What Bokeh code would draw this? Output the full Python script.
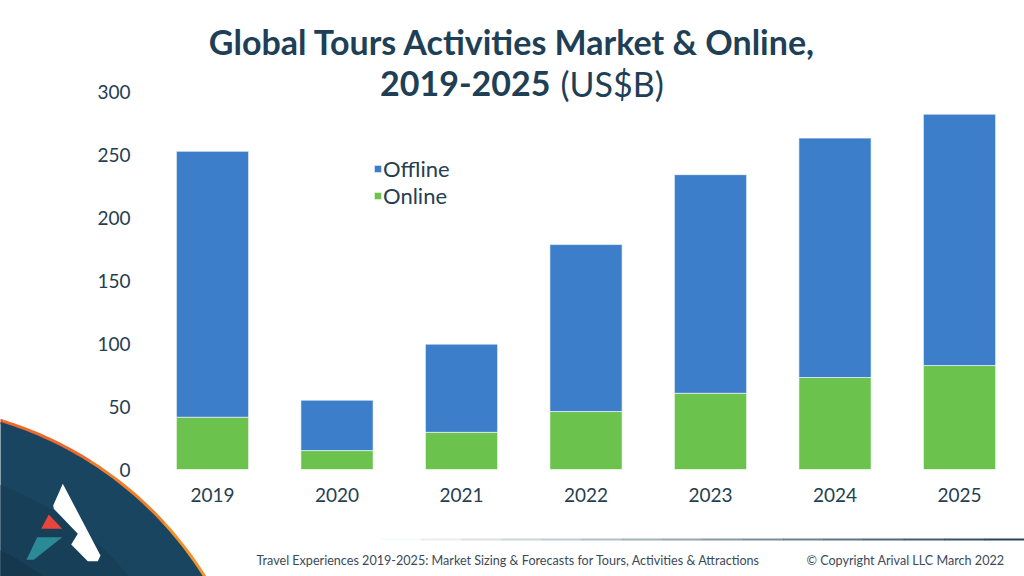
import numpy as np
from bokeh.plotting import figure
from bokeh.models import (ColumnDataSource, Range1d, FixedTicker, Legend, LegendItem,
                          Label, PolyAnnotation, LinearAxis)
from bokeh.embed import file_html
from bokeh.resources import INLINE

# ---------------- data ----------------
years = [2019, 2020, 2021, 2022, 2023, 2024, 2025]
online = [41.5, 15, 29.5, 46, 60.5, 73, 82.5]
offline = [211, 40, 70, 132.5, 173.5, 190, 199.5]
y_ticks = [0, 50, 100, 150, 200, 250, 300]
series_names = ["Offline", "Online"]

title_line1 = "Global Tours Activities Market & Online,"
title_line2_bold = "2019-2025"
title_line2_reg = "(US$B)"
footer_left = "Travel Experiences 2019-2025: Market Sizing & Forecasts for Tours, Activities & Attractions"
footer_right = "\u00a9 Copyright Arival LLC March 2022"

# ---------------- style ----------------
BLUE = "#3c7ec9"
GREEN = "#6bc24c"
NAVY = "#1e3f56"
TICK = "#263e52"
FONT = "Lato"

W, H = 1024, 576
# layout of the chart inside the canvas (pixels)
PITCH = 124.5          # px per year
X0_PX, Y0_PX = 212, 469  # pixel of first bar centre / of value 0
PX_PER_UNIT = 1.26

x_start = years[0] - X0_PX / PITCH
y_start = -(H - Y0_PX) / PX_PER_UNIT
p = figure(width=W, height=H, output_backend="svg", toolbar_location=None,
           x_range=Range1d(x_start, x_start + W / PITCH),
           y_range=Range1d(y_start, y_start + H / PX_PER_UNIT),
           x_axis_type=None, y_axis_type=None,
           min_border=0, min_border_left=0, min_border_right=0,
           min_border_top=0, min_border_bottom=0)
p.title.visible = False
p.outline_line_color = None
p.background_fill_color = "white"
p.border_fill_color = "white"
p.grid.visible = False


def sx(X):
    return X


def sy(Y):
    return H - Y


src = ColumnDataSource(dict(year=years, online=online, offline=offline))
rs = p.vbar_stack(["online", "offline"], x="year", width=0.58, color=[GREEN, BLUE],
                  line_color="white", line_alpha=0.6, line_width=1, source=src)

yaxis = LinearAxis(ticker=FixedTicker(ticks=y_ticks), fixed_location=years[0] - 62 / PITCH)
xaxis = LinearAxis(ticker=FixedTicker(ticks=years), fixed_location=0)
for ax in (xaxis, yaxis):
    ax.axis_line_color = None
    ax.major_tick_line_color = None
    ax.minor_tick_line_color = None
    ax.major_tick_in = 0
    ax.major_tick_out = 0
    ax.minor_tick_in = 0
    ax.minor_tick_out = 0
    ax.major_label_text_font = FONT
    ax.major_label_text_font_size = "19px"
    ax.major_label_text_color = TICK
yaxis.major_label_standoff = 20
xaxis.major_label_standoff = 18
p.add_layout(yaxis, "left")
p.add_layout(xaxis, "below")

legend = Legend(items=[LegendItem(label=series_names[0], renderers=[rs[1]]),
                       LegendItem(label=series_names[1], renderers=[rs[0]])],
                location=(373, sy(209)), padding=0, margin=0, spacing=0,
                glyph_width=9, glyph_height=9, label_height=20, label_standoff=1,
                label_text_font=FONT, label_text_font_size="22px", label_text_color=TICK,
                border_line_color=None, background_fill_alpha=0)
p.add_layout(legend)


# ---------------- titles / footer ----------------
def lab(X, Y, text, size, bold=False, align="left", color=NAVY):
    p.add_layout(Label(x=sx(X), y=sy(Y), x_units="screen", y_units="screen", text=text,
                       text_align=align, text_baseline="middle", text_font=FONT,
                       text_font_style="bold" if bold else "normal",
                       text_font_size=size, text_color=color))


lab(512, 41, title_line1, "34px", bold=True, align="center")
lab(550, 83, title_line2_bold, "34px", bold=True, align="right")
lab(560, 83, title_line2_reg, "34px", bold=False, align="left")
lab(256, 560, footer_left, "12.6px", color="#3b4a59")
lab(806, 560, footer_right, "12.6px", color="#3b4a59")

# gradient rule above the footer
n = 16
xs_edges = np.linspace(380, 1024, n + 1)
c0 = np.array([255, 255, 255]); c1 = np.array([0x1f, 0x3f, 0x55])
for i in range(n):
    t = (i + 0.5) / n
    c = (c0 + (c1 - c0) * t).astype(int)
    col = "#%02x%02x%02x" % tuple(c)
    a, b = xs_edges[i], xs_edges[i + 1] + 0.5
    p.add_layout(PolyAnnotation(xs=[sx(a), sx(b), sx(b), sx(a)], ys=[sy(538), sy(538), sy(540), sy(540)],
                                xs_units="screen", ys_units="screen", fill_color=col, fill_alpha=1,
                                line_color=None, level="underlay"))

# ---------------- logo corner ----------------
CX, CY, R = -105, 769, 363

rim_cols = ["#e8522e", "#ec6a2c", "#f07f2a", "#f3912a", "#f6a02a"]
angs = np.linspace(88, 12, len(rim_cols) + 1)
for i, col in enumerate(rim_cols):
    t = np.radians(np.linspace(angs[i], angs[i + 1], 20))
    Xo = CX + (R + 3) * np.cos(t); Yo = CY - (R + 3) * np.sin(t)
    Xi = CX + (R - 2) * np.cos(t[::-1]); Yi = CY - (R - 2) * np.sin(t[::-1])
    p.add_layout(PolyAnnotation(xs=[sx(v) for v in list(Xo) + list(Xi)],
                                ys=[sy(v) for v in list(Yo) + list(Yi)],
                                xs_units="screen", ys_units="screen",
                                fill_color=col, fill_alpha=1, line_color=None, level="underlay"))

for r, col in [(R, "#1a4560"), (R - 60, "#183f58"), (R - 120, "#16384f"), (R - 180, "#143147"), (R - 240, "#122a3f")]:
    t = np.radians(np.linspace(89, 10, 80))
    X = CX + r * np.cos(t); Y = CY - r * np.sin(t)
    p.add_layout(PolyAnnotation(xs=[sx(v) for v in list(X) + [400, -60]],
                                ys=[sy(v) for v in list(Y) + [700, 700]],
                                xs_units="screen", ys_units="screen",
                                fill_color=col, fill_alpha=1, line_color=None, level="underlay"))

white_X = [62.3, 100, 97.3, 87.3, 70.7, 77.3, 53.3, 52.7]
white_Y = [483.3, 555, 560.7, 560.7, 544, 533.3, 508.3, 505]
red_X = [48.3, 61.7, 40.7]
red_Y = [514, 528.3, 528.3]
teal_X = [36.7, 61.7, 33.3, 26]
teal_Y = [536.7, 536.7, 559.3, 559.3]
for XX, YY, col in [(white_X, white_Y, "white"), (red_X, red_Y, "#e8453c"), (teal_X, teal_Y, "#2a8a96")]:
    p.add_layout(PolyAnnotation(xs=[sx(v) for v in XX], ys=[sy(v) for v in YY],
                                xs_units="screen", ys_units="screen",
                                fill_color=col, fill_alpha=1, line_color=None, level="underlay"))

open("out.html", "w").write(file_html(p, INLINE))
